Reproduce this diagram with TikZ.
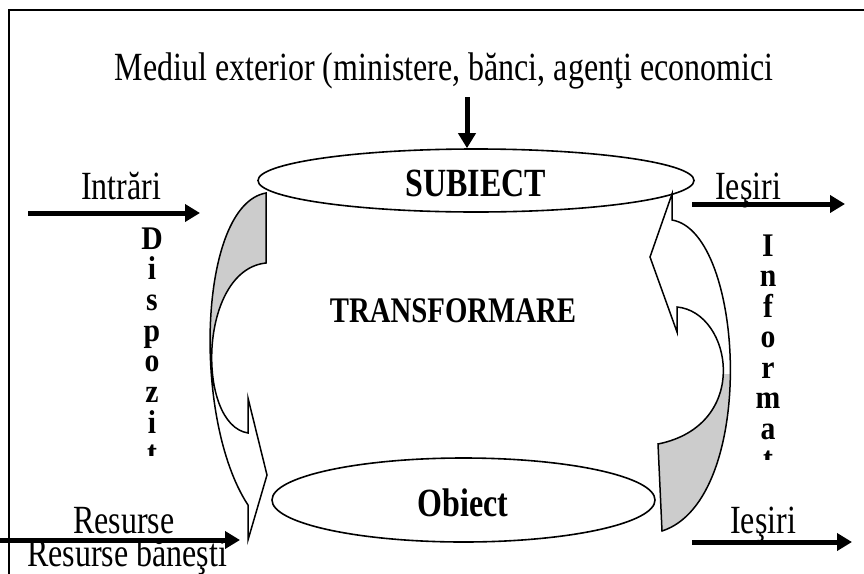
\documentclass[tikz,border=0pt]{standalone}
\usepackage{fontspec}
\usepackage{graphicx}
\setmainfont{Liberation Serif}
\usetikzlibrary{arrows.meta,shapes.geometric}
\newcommand\nar[1]{\scalebox{0.8}[1]{#1}}
\newcommand\vnar[1]{\scalebox{0.9}[1]{#1}}
\begin{document}
\begin{tikzpicture}[x=1pt,y=-1pt,
  txt/.style={font=\fontsize{40}{46}\selectfont, inner sep=0pt},
  btxt/.style={font=\fontsize{36}{42}\selectfont\bfseries, inner sep=0pt},
  vtxt/.style={font=\fontsize{33}{38}\selectfont\bfseries, inner sep=0pt},
  flow/.style={line width=5pt, -{Triangle[length=15pt,width=17pt]}},
  ell/.style={draw, ellipse, line width=1.6pt, inner sep=0pt},
  curvarrow/.style={draw, line width=1.5pt, line join=miter},
  backface/.style={fill=gray!40}]
\useasboundingbox (0,0) rectangle (864,573);
\clip (0,0) rectangle (864,573);
% frame
\draw[line width=2pt] (9,590) -- (9,10) -- (880,10);
% texts
\node[txt, anchor=base] (med) at (444,80) {\nar{Mediul exterior (ministere, bănci, agenţi economici}};
\node[txt, anchor=base] (intr) at (121,199) {\nar{Intrări}};
\node[txt, anchor=base west] (ies1) at (715,199) {\nar{Ieşiri}};
\node[txt, anchor=base west] (res) at (73,533) {\nar{Resurse}};
\node[txt, anchor=base west] (resb) at (27,566) {\nar{Resurse băneşti}};
\node[txt, anchor=base west] (ies2) at (730,533) {\nar{Ieşiri}};
% ellipses
\node[ell, minimum width=436pt, minimum height=63pt] (sub) at (476,180.5) {};
\node[ell, minimum width=383pt, minimum height=84pt] (obi) at (463.5,500) {};
\node[txt, font=\fontsize{40}{46}\selectfont\bfseries, anchor=base] (subt) at (476,196) {\nar{SUBIECT}};
\node[txt, font=\fontsize{40}{46}\selectfont\bfseries, anchor=base] (obit) at (463,516) {\nar{Obiect}};
\node[btxt, anchor=base] (tr) at (453,322) {\nar{TRANSFORMARE}};
% straight arrows
\coordinate (ext) at (467,97);
\draw[flow] (ext) -- (ext |- sub.north);
\coordinate (inA) at (28,213);
\coordinate (inB) at (200,213);
\draw[flow] (inA) -- (inB);
\coordinate (rsA) at (0,540);
\coordinate (rsB) at (240,540);
\draw[flow] (rsA) -- (rsB);
\coordinate (o1A) at (692,204);
\coordinate (o1B) at (845,204);
\draw[flow] (o1A) -- (o1B);
\coordinate (o2A) at (692,542);
\coordinate (o2B) at (852,542);
\draw[flow] (o2A) -- (o2B);
% vertical words
\begin{scope}
\clip (100,215) rectangle (200,455);
\foreach \l [count=\k from 0] in {D,i,s,p,o,z,i,ţ}
  \node[vtxt, anchor=base] (dl\k) at (152,249+30.7*\k) {\vnar{\l}};
\end{scope}
\begin{scope}
\clip (720,215) rectangle (820,459);
\foreach \l [count=\k from 0] in {I,n,f,o,r,m,a,ţ}
  \node[vtxt, anchor=base] (il\k) at (768,256+30.5*\k) {\vnar{\l}};
\end{scope}
% left curved arrow
\def\leftarrowpath{(266,193) -- (266,263) .. controls (198,270) and (196,425) .. (248,433)
  -- (248,398) -- (267,475) -- (248,540) -- (248,505)
  .. controls (192,420) and (198,205) .. (266,193) -- cycle}
\begin{scope}
\clip (150,150) rectangle (300,345);
\fill[backface] \leftarrowpath;
\end{scope}
\draw[curvarrow] \leftarrowpath;
% right curved arrow
\def\rightarrowpath{(662,531) -- (658,444) .. controls (752,425) and (732,312) .. (677,307)
  -- (677,332) -- (650,257) -- (672,194) -- (672,220)
  .. controls (745,232) and (758,500) .. (662,531) -- cycle}
\begin{scope}
\clip (620,374) rectangle (780,560);
\fill[backface] \rightarrowpath;
\end{scope}
\draw[curvarrow] \rightarrowpath;
\end{tikzpicture}
\end{document}
